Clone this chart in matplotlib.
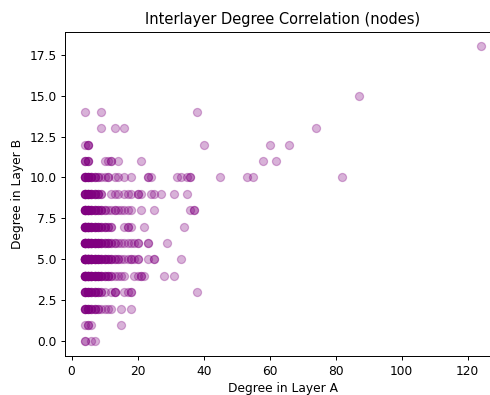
import numpy as np
import matplotlib.pyplot as plt

# degree in layer A for the nodes of each degree in layer B
deg_b_levels = [0, 1, 2, 3, 4, 5, 6, 7, 8, 9, 10, 11, 12, 13, 14, 15, 18]

deg_a_b0 = [4, 4, 6, 7]
deg_a_b1 = [4, 5, 5, 6, 15]
deg_a_b2 = [4]*5 + [5]*4 + [6]*3 + [7]*3 + [8]*2 + [9] + [10, 11, 12, 15, 18]
deg_a_b3 = [4]*6 + [5]*5 + [6]*4 + [7]*4 + [8]*3 + [9]*2 + [10] + [12, 13, 13, 13, 16, 17, 18, 18, 38]
deg_a_b4 = ([4]*10 + [5]*8 + [6]*7 + [7]*6 + [8]*5 + [9]*4 + [10]*3 + [11]*3 + [12]*2 + [13]
            + [14, 15, 16, 19, 20, 21, 21, 22, 28, 31])
deg_a_b5 = ([4]*12 + [5]*10 + [6]*8 + [7]*6 + [8]*5 + [9]*4 + [10]*4 + [11]*3 + [12]*3 + [13]*2 + [14]*2
            + [15, 16, 17, 18, 18, 19, 20, 20, 23, 25, 25, 33])
deg_a_b6 = ([4]*10 + [5]*9 + [6]*7 + [7]*6 + [8]*5 + [9]*4 + [10]*3 + [11]*3 + [12]*2 + [13]*2
            + [14, 15, 16, 17, 18, 19, 20, 20, 23, 23, 29])
deg_a_b7 = ([4]*9 + [5]*8 + [6]*6 + [7]*5 + [8]*4 + [9]*3 + [10]*3 + [11]*2 + [12]*2
            + [16, 17, 17, 18, 22, 34])
deg_a_b8 = ([4]*8 + [5]*7 + [6]*5 + [7]*4 + [8]*3 + [9]*3 + [10]*2
            + [11, 12, 13, 13, 14, 15, 16, 17, 18, 21, 25, 36, 37, 37])
deg_a_b9 = ([4]*7 + [5]*6 + [6]*5 + [7]*4 + [8]*3 + [9]*2
            + [12, 13, 14, 16, 17, 18, 20, 20, 21, 24, 25, 27, 31, 35])
deg_a_b10 = ([4]*6 + [5]*5 + [6]*4 + [7]*3 + [8]*2
             + [9, 10, 11, 11, 13, 14, 16, 18, 23, 23, 24, 32, 33, 35, 36, 36, 45, 53, 55, 82])
deg_a_b11 = [4, 4, 4, 5, 5, 5, 10, 11, 12, 12, 14, 21, 58, 62]
deg_a_b12 = [4, 5, 5, 5, 40, 60, 66]
deg_a_b13 = [9, 13, 16, 74]
deg_a_b14 = [4, 9, 38]
deg_a_b15 = [87]
deg_a_b18 = [124]

rows = [deg_a_b0, deg_a_b1, deg_a_b2, deg_a_b3, deg_a_b4, deg_a_b5, deg_a_b6, deg_a_b7,
        deg_a_b8, deg_a_b9, deg_a_b10, deg_a_b11, deg_a_b12, deg_a_b13, deg_a_b14,
        deg_a_b15, deg_a_b18]

deg_a = np.concatenate([np.array(r) for r in rows])
deg_b = np.concatenate([np.full(len(r), b) for r, b in zip(rows, deg_b_levels)])

# the original looks rendered a bit smaller than default, so use dpi 88
fig = plt.figure(figsize=(490 / 88, 395 / 88), dpi=88)
# axes runs past the right edge, as in the cropped original
ax = fig.add_axes([0.1327, 0.0987, 0.889, 0.821])
ax.scatter(deg_a, deg_b, color='purple', alpha=0.3, s=44)

ax.set_title("Interlayer Degree Correlation (nodes)")
ax.set_xlabel("Degree in Layer A")
ax.set_ylabel("Degree in Layer B")

fig.savefig("out.png", dpi=88)
